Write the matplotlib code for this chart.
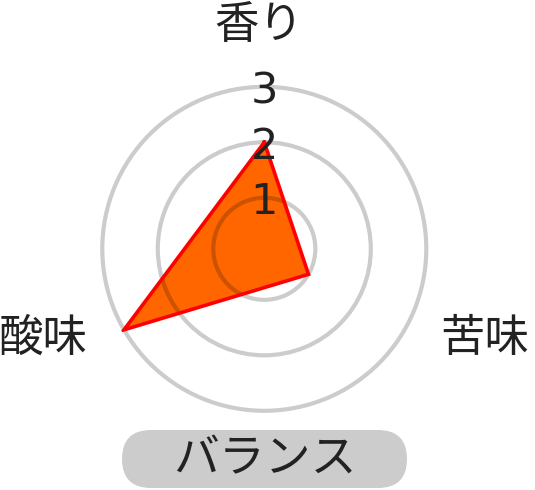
import numpy as np
import matplotlib
matplotlib.use("Agg")
import matplotlib.pyplot as plt
from matplotlib.patches import FancyBboxPatch

plt.rcParams['font.family'] = ['Noto Sans CJK JP', 'DejaVu Sans']

# ---- data ----
categories = ['香り', '苦味', '酸味']
values = [2, 1, 3]
tick_values = [1, 2, 3]
tick_labels = ['1', '2', '3']
badge_text = 'バランス'

fig = plt.figure(figsize=(5.35, 4.90), dpi=100)
fig.patch.set_facecolor('white')

ax = fig.add_axes([0.1860, 0.1560, 0.6160, 0.6725], projection='polar')
ax.set_theta_zero_location('N')
ax.set_theta_direction(-1)

angles = np.linspace(0, 2 * np.pi, len(categories), endpoint=False)
a_closed = np.concatenate([angles, angles[:1]])
v_closed = np.concatenate([values, values[:1]])

ax.fill(a_closed, v_closed, color='#ff6600', zorder=1)
ax.plot(a_closed, v_closed, color='#ff0000', lw=2.6, zorder=3, solid_joinstyle='miter')

ax.set_ylim(0.08, 3.05)
ax.set_yticks(tick_values)
ax.set_yticklabels([])
ax.set_xticks(angles)
ax.set_xticklabels([])
ax.tick_params(length=0)
ax.set_axisbelow(False)
ax.yaxis.grid(True, color='black', alpha=0.2, lw=3)
ax.xaxis.grid(False)
ax.spines['polar'].set_visible(False)
ax.patch.set_alpha(0)

for t, lab in zip(tick_values, tick_labels):
    ax.text(0, t, lab, ha='center', va='center_baseline', fontsize=31,
            color='#222222', family=['DejaVu Sans'], zorder=5)

# category labels placed around the outer ring
offsets = {0: ((-5, 62), 'center', 'center'),
           1: ((36, -8), 'left', 'center'),
           2: ((-36, -8), 'right', 'center')}
for i, (ang, cat) in enumerate(zip(angles, categories)):
    (dx, dy), ha, va = offsets[i]
    ax.annotate(cat, xy=(ang, 3), xytext=(dx, dy), textcoords='offset pixels',
                ha=ha, va=va, fontsize=32, color='#222222', annotation_clip=False)

# badge at the bottom
badge = FancyBboxPatch((1.22, 0.02), 2.85, 0.58,
                       boxstyle='round,pad=0,rounding_size=0.29',
                       transform=fig.dpi_scale_trans, facecolor='#cccccc',
                       edgecolor='none')
fig.patches.append(badge)
fig.text(265 / 535, 1 - 459 / 490, badge_text, ha='center', va='center',
         fontsize=33, color='#222222')

fig.savefig('out.png', dpi=100)
